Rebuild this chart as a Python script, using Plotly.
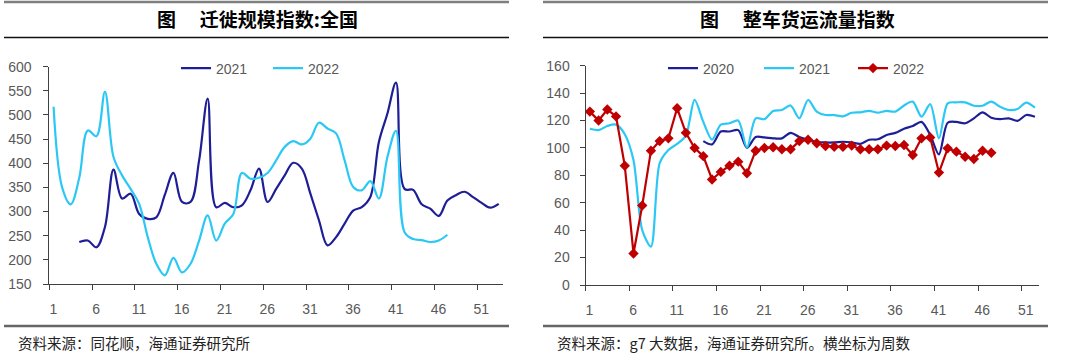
import plotly.graph_objects as go

W, H = 1080, 363

# ---------------- data ----------------
mig_2021_weeks = list(range(4, 54))
mig_2021 = [237, 240, 226, 268, 387, 327, 337, 295, 285, 288, 335, 380, 320, 320, 406, 534,
            309, 318, 309, 313, 344, 389, 320, 347, 375, 401, 389, 337, 282, 230, 247, 275,
            302, 309, 330, 444, 503, 567, 347, 345, 315, 306, 291, 323, 334, 341, 330, 318,
            308, 316]
mig_2022_weeks = list(range(1, 48))
mig_2022 = [517, 350, 315, 370, 468, 456, 548, 413, 375, 347, 316, 247, 192, 168, 204, 174,
            192, 240, 292, 240, 275, 295, 380, 368, 370, 380, 406, 434, 446, 439, 451, 484,
            472, 462, 406, 351, 344, 363, 327, 413, 467, 257, 243, 241, 237, 240, 252]

fr_2020_weeks = list(range(14, 53))
fr_2020 = [105, 102.6, 112, 112, 113, 100, 108, 107.7, 107, 107, 111, 108, 106, 104.5, 104,
           104, 104.5, 104, 103, 106, 106.3, 109.4, 111, 114, 116, 119, 109.4, 95.3, 118.4,
           119, 118, 121.6, 126, 122, 121, 121.6, 119.7, 124, 122.8]
fr_2021_weeks = list(range(1, 53))
fr_2021 = [114, 113, 116, 117, 110, 91, 40, 28, 89, 98.5, 103, 109, 135, 119, 106, 117, 118,
           120, 100, 121.6, 121, 127, 127.7, 131, 121.6, 135, 126.5, 124, 124, 123, 125.7,
           126, 127, 125.7, 127, 126.5, 131, 133.8, 122.8, 132, 107, 132.5, 133.3, 133.3,
           130.8, 130.8, 133.8, 130, 127.7, 128.4, 133, 129.4]
fr_2022_weeks = list(range(1, 48))
fr_2022 = [126.5, 120, 128, 123, 87, 23, 58, 98, 105, 107, 129, 111, 100, 94, 77, 82.5, 87,
           90, 81.5, 98, 100, 100.5, 99, 99, 105, 106, 103.4, 101.4, 100.9, 100.9, 101.7, 99,
           99, 99, 101.7, 101.4, 102.1, 94.8, 107, 107.7, 82, 99.7, 97.3, 93.6, 91.9, 98, 96.5]

week_labels = [1, 6, 11, 16, 21, 26, 31, 36, 41, 46, 51]

left_title = "图\u3000\u2005迁徙规模指数:全国"
right_title = "图\u3000\u2005整车货运流量指数"
left_source = "资料来源：同花顺，海通证券研究所"
right_source = "资料来源：g7 大数据，海通证券研究所。横坐标为周数"

# ---------------- styles ----------------
NAVY = "#1E1E96"
CYAN = "#2BC8F5"
RED = "#C00000"
GREY = "#595959"
AXIS = "#404040"
TICKFONT = dict(family="Liberation Sans, Arial", size=14, color=GREY)
CJK = "Noto Sans CJK SC"


def px(x):
    return x / W


def py(y):
    return 1 - y / H


fig = go.Figure()

fig.add_trace(go.Scatter(x=mig_2021_weeks, y=mig_2021, name="2021", mode="lines",
                         line=dict(color=NAVY, width=2.2, shape="spline", smoothing=1.0),
                         xaxis="x", yaxis="y", legend="legend", showlegend=True))
fig.add_trace(go.Scatter(x=mig_2022_weeks, y=mig_2022, name="2022", mode="lines",
                         line=dict(color=CYAN, width=2.2, shape="spline", smoothing=1.0),
                         xaxis="x", yaxis="y", legend="legend2", showlegend=True))
fig.add_trace(go.Scatter(x=fr_2020_weeks, y=fr_2020, name="2020", mode="lines",
                         line=dict(color=NAVY, width=2.2, shape="spline", smoothing=0.8),
                         xaxis="x2", yaxis="y2", legend="legend3", showlegend=True))
fig.add_trace(go.Scatter(x=fr_2021_weeks, y=fr_2021, name="2021", mode="lines",
                         line=dict(color=CYAN, width=2.2, shape="spline", smoothing=0.8),
                         xaxis="x2", yaxis="y2", legend="legend4", showlegend=True))
fig.add_trace(go.Scatter(x=fr_2022_weeks, y=fr_2022, name="2022", mode="lines+markers",
                         line=dict(color=RED, width=2.2),
                         marker=dict(symbol="diamond", size=8, color=RED),
                         xaxis="x2", yaxis="y2", legend="legend5", showlegend=True))


def xaxis_cfg(domain, nweeks, anchor):
    step = (domain[1] - domain[0]) * W / nweeks
    return dict(domain=domain, range=[0.5, nweeks + 0.5], anchor=anchor,
                tickmode="array", tickvals=[w - 0.5 for w in week_labels],
                ticktext=[str(w) for w in week_labels], ticklabelshift=int(round(step / 2)),
                ticks="outside", ticklen=5, tickcolor=AXIS, tickwidth=1,
                showline=True, linecolor=AXIS, linewidth=1, showgrid=False,
                zeroline=False, tickfont=TICKFONT, fixedrange=True, ticklabelstandoff=7,
                automargin=False)


def yaxis_cfg(domain, rng, dtick, anchor, standoff):
    return dict(domain=domain, range=rng, dtick=dtick, tick0=rng[0], anchor=anchor,
                ticks="outside", ticklen=5, tickcolor=AXIS, tickwidth=1,
                showline=True, linecolor=AXIS, linewidth=1, showgrid=False,
                zeroline=False, tickfont=TICKFONT, fixedrange=True,
                ticklabelstandoff=standoff, automargin=False)


legend_common = dict(orientation="h", bgcolor="rgba(0,0,0,0)", borderwidth=0,
                     font=dict(family="Liberation Sans, Arial", size=14, color=GREY),
                     xanchor="left", yanchor="middle", y=py(68.5),
                     itemwidth=30, tracegroupgap=0)

legend_text_x = [216, 308, 703, 799, 893]
legends = {}
for i, tx in enumerate(legend_text_x):
    key = "legend" if i == 0 else f"legend{i + 1}"
    legends[key] = dict(legend_common, x=px(tx - 40))

shapes = []
for x0, x1 in [(4, 509), (543, 1048)]:
    shapes.append(dict(type="line", xref="paper", yref="paper", x0=px(x0), x1=px(x1),
                       y0=py(2), y1=py(2), line=dict(color="#7F7F7F", width=2.5)))
    shapes.append(dict(type="line", xref="paper", yref="paper", x0=px(x0), x1=px(x1),
                       y0=py(37.5), y1=py(37.5), line=dict(color="#111111", width=1.5)))
    shapes.append(dict(type="line", xref="paper", yref="paper", x0=px(x0), x1=px(x1),
                       y0=py(326), y1=py(326), line=dict(color="#666666", width=2.5)))

annotations = [
    dict(text=left_title, x=px(257), y=py(19), xref="paper", yref="paper",
         xanchor="center", yanchor="middle", showarrow=False,
         font=dict(family=CJK, size=19, color="#000000", weight="bold")),
    dict(text=right_title, x=px(797), y=py(19), xref="paper", yref="paper",
         xanchor="center", yanchor="middle", showarrow=False,
         font=dict(family=CJK, size=19, color="#000000", weight="bold")),
    dict(text=left_source, x=px(16), y=py(342), xref="paper", yref="paper",
         xanchor="left", yanchor="middle", showarrow=False,
         font=dict(family=CJK, size=14.5, color="#222222")),
    dict(text=right_source, x=px(555), y=py(342), xref="paper", yref="paper",
         xanchor="left", yanchor="middle", showarrow=False,
         font=dict(family=CJK, size=14.5, color="#222222")),
]

fig.update_layout(
    width=W, height=H, margin=dict(l=0, r=0, t=0, b=0, pad=0, autoexpand=False),
    paper_bgcolor="white", plot_bgcolor="white", showlegend=True,
    xaxis=xaxis_cfg([px(49.3), px(503)], 53, "y"),
    yaxis=yaxis_cfg([py(284), py(66.7)], [150, 600], 50, "x", 9),
    xaxis2=xaxis_cfg([px(585.5), px(1039.3)], 52, "y2"),
    yaxis2=yaxis_cfg([py(285), py(65.7)], [0, 160], 20, "x2", 7),
    shapes=shapes, annotations=annotations,
    **legends,
)

fig.write_html("out.html", config={"displayModeBar": False},
               post_script="document.body.style.margin='0px';")
